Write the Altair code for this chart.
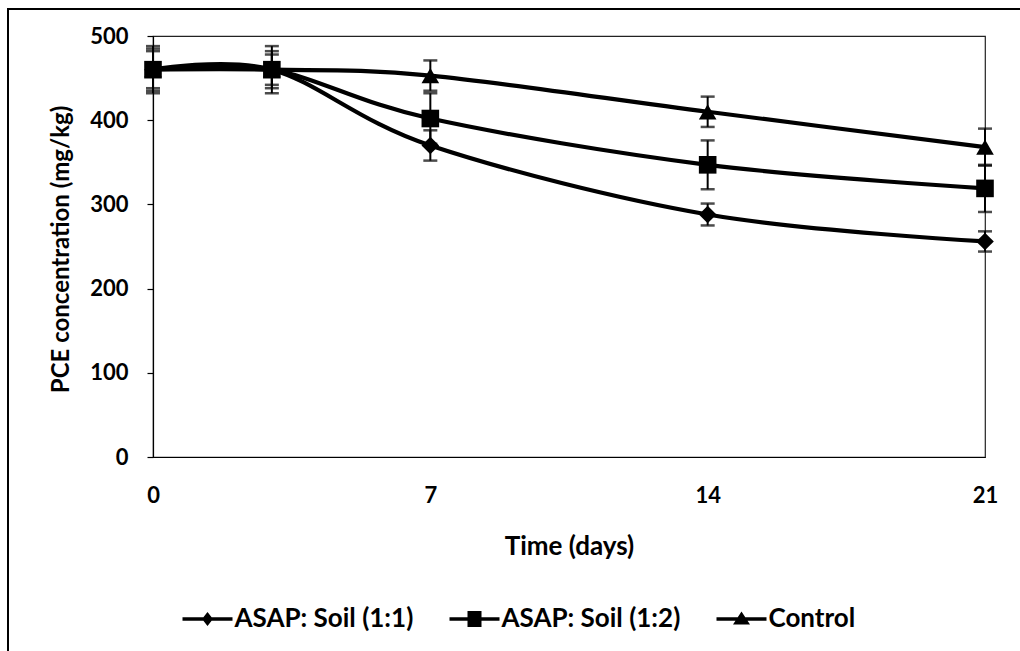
import altair as alt
import pandas as pd

# ---- data ----
days = [0, 3, 7, 14, 21]
series = ["ASAP: Soil (1:1)", "ASAP: Soil (1:2)", "Control"]
pce_11 = [460, 460, 370, 288, 256]
pce_12 = [460, 460, 402, 347, 319]
pce_ctrl = [460, 460, 453, 410, 368]
sd_11 = [22, 18, 18, 13, 12]
sd_12 = [28, 28, 30, 29, 28]
sd_ctrl = [25, 22, 18, 18, 22]
x_ticks = [0, 7, 14, 21]
y_ticks = [0, 100, 200, 300, 400, 500]

rows = []
for name, vals, sds in zip(series, [pce_11, pce_12, pce_ctrl], [sd_11, sd_12, sd_ctrl]):
    for d, v, s in zip(days, vals, sds):
        rows.append({"series": name, "day": d, "pce": v, "lo": v - s, "hi": v + s})
df = pd.DataFrame(rows)

FONT = "Lato"
INK = "black"

x_enc = alt.X("day:Q", scale=alt.Scale(domain=[0, 21], nice=False, zero=False),
              axis=alt.Axis(values=x_ticks, title="Time (days)", ticks=False,
                            labelFlush=False, labelPadding=28, titlePadding=27,
                            titleFontSize=26))
y_enc = alt.Y("pce:Q", scale=alt.Scale(domain=[0, 500], nice=False),
              axis=alt.Axis(values=y_ticks, title="PCE concentration (mg/kg)",
                            labelFlush=False, tickSize=6, labelPadding=19,
                            titlePadding=16, titleFontSize=24, titleY=213))

base = alt.Chart(df)

lines = base.mark_line(color=INK, strokeWidth=4.2, interpolate="cardinal").encode(
    x=x_enc, y=y_enc, detail="series:N"
)

bars = base.mark_rule(color=INK, strokeWidth=2).encode(
    x="day:Q", y="lo:Q", y2="hi:Q"
)
cap_lo = base.mark_tick(color=INK, orient="horizontal", size=14, thickness=2.5).encode(
    x="day:Q", y="lo:Q"
)
cap_hi = base.mark_tick(color=INK, orient="horizontal", size=14, thickness=2.5).encode(
    x="day:Q", y="hi:Q"
)

points = base.mark_point(filled=True, color=INK, opacity=1, size=310).encode(
    x="day:Q", y="pce:Q",
    shape=alt.Shape("series:N", scale=alt.Scale(domain=series,
                    range=["diamond", "square", "triangle-up"]), legend=None),
)

# legend-only layer (empty data): filled "line + marker" symbols
sym_d = "M-2.5,-0.18H2.5V0.18H-2.5ZM0,-0.7L0.55,0L0,0.7L-0.55,0Z"
sym_s = "M-2.5,-0.18H2.5V0.18H-2.5ZM-0.7,-0.8H0.7V0.8H-0.7Z"
sym_t = "M-2.5,-0.18H2.5V0.18H-2.5ZM0,-0.75L0.85,0.55L-0.85,0.55Z"
legend_layer = base.transform_filter("false").mark_point(
    filled=True, color=INK, opacity=1
).encode(
    x="day:Q", y="pce:Q",
    shape=alt.Shape("series:N", scale=alt.Scale(domain=series, range=[sym_d, sym_s, sym_t]),
                    legend=alt.Legend(orient="none", legendX=41.5, legendY=570,
                                      direction="horizontal", columns=3, title=None,
                                      symbolSize=400, symbolFillColor=INK, symbolOpacity=1,
                                      labelFont=FONT, labelFontSize=26, labelFontWeight="bold",
                                      labelColor=INK, labelOffset=14, labelLimit=0,
                                      columnPadding=33)),
)

frame_df = pd.DataFrame({"k": [0]})
frame_v = alt.Chart(frame_df).mark_rule(color=INK, strokeWidth=2).encode(
    x=alt.value(-145), y=alt.value(-27), y2=alt.value(640)
)
frame_h = alt.Chart(frame_df).mark_rule(color=INK, strokeWidth=2).encode(
    x=alt.value(-146), x2=alt.value(900), y=alt.value(-27)
)

chart = alt.layer(lines, bars, cap_lo, cap_hi, points, legend_layer, frame_v, frame_h).resolve_scale(
    shape="independent"
).properties(
    width=832, height=421,
    autosize=alt.AutoSizeParams(type="none"),
    padding={"left": 153, "top": 36, "right": 35, "bottom": 194},
    background="white",
).configure_view(
    stroke="#222", strokeWidth=1.2
).configure_axis(
    grid=False, domainColor=INK, domainWidth=1.2, tickColor=INK, tickWidth=1.2,
    labelFont=FONT, labelFontSize=22, labelFontWeight="bold", labelColor=INK,
    titleFont=FONT, titleFontWeight="bold", titleColor=INK,
)

chart.save("out.html", embed_options={"renderer": "svg", "actions": False})
